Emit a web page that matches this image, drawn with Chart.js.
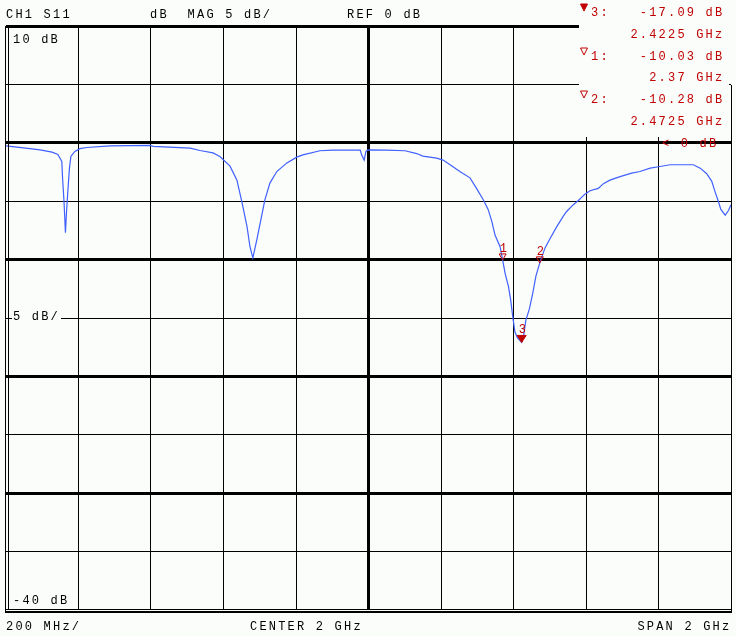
<!DOCTYPE html>
<html>
<head>
<meta charset="utf-8">
<style>
  html, body { margin: 0; padding: 0; background: #fafdfa; }
  canvas { display: block; }
</style>
<script src="https://cdn.jsdelivr.net/npm/chart.js@4.4.1/dist/chart.umd.min.js"></script>
</head>
<body>
<canvas id="c" width="736" height="636"></canvas>
<script>
const freqGHz = [1.000,1.066,1.094,1.127,1.143,1.154,1.156,1.160,1.164,1.167,
  1.170,1.175,1.179,1.190,1.204,1.223,1.287,1.397,1.406,1.508,
  1.535,1.571,1.590,1.618,1.637,1.651,1.665,1.673,1.681,1.692,
  1.705,1.714,1.728,1.747,1.774,1.802,1.819,1.866,1.902,1.977,
  1.981,1.988,1.993,1.999,2.050,2.101,2.133,2.150,2.188,2.206,
  2.225,2.252,2.280,2.298,2.317,2.330,2.340,2.349,2.363,2.370,
  2.377,2.386,2.392,2.398,2.404,2.411,2.4225,2.427,2.434,2.444,
  2.453,2.462,2.4725,2.487,2.501,2.519,2.537,2.546,2.565,2.579,
  2.597,2.611,2.634,2.648,2.666,2.694,2.726,2.749,2.777,2.804,
  2.832,2.896,2.915,2.933,2.947,2.956,2.965,2.972,2.984,2.993,3.000];

const s11dB = [-0.26,-0.5,-0.6,-0.8,-1.0,-1.6,-3.0,-5.0,-7.7,-5.9,
  -4.45,-2.17,-1.17,-0.74,-0.5,-0.4,-0.26,-0.22,-0.3,-0.45,
  -0.66,-0.86,-1.17,-2.0,-3.2,-5.1,-7.2,-8.9,-9.85,-8.3,
  -6.3,-4.9,-3.45,-2.46,-1.74,-1.23,-1.03,-0.68,-0.63,-0.63,
  -1.03,-1.48,-0.74,-0.6,-0.63,-0.68,-0.92,-1.14,-1.31,-1.48,
  -1.88,-2.46,-3.0,-3.9,-4.9,-5.7,-6.7,-7.9,-8.9,-10.03,
  -11.2,-12.3,-13.4,-14.9,-16.2,-16.7,-17.09,-16.7,-15.2,-14.2,
  -12.9,-11.4,-10.28,-9.0,-8.2,-7.2,-6.3,-5.9,-5.3,-4.94,
  -4.4,-4.1,-3.9,-3.5,-3.2,-2.9,-2.6,-2.46,-2.17,-2.03,
  -1.88,-1.88,-2.17,-2.65,-3.3,-4.2,-5.0,-5.7,-6.2,-5.8,-5.3];

// marcadores
const markerIds  = ['1', '2', '3'];
const markerFreq = [2.37, 2.4725, 2.4225];
const markerDb   = [-10.03, -10.28, -17.09];
const activeMarker = '3';
const readoutOrder = ['3', '1', '2'];

// escalas
const freqMin = 1, freqMax = 3, freqStep = 0.2;
const dbMin = -40, dbMax = 10, dbStep = 5;
const refDb = 0;

// textos
const headerTexts = ['CH1 S11', 'dB  MAG 5 dB/', 'REF 0 dB'];
const footerTexts = ['200 MHz/', 'CENTER 2 GHz', 'SPAN 2 GHz'];
const topLabel = '10 dB', midLabel = '5 dB/', bottomLabel = '-40 dB';

// ====== Estilo ======
const BG = '#fafdfa';
const RED = '#c00000';
const BLUE = '#4060ff';
const FONT = '12px "Liberation Mono", "DejaVu Sans Mono", monospace';
const PITCH = 9.4;

const near = (a, b) => Math.abs(a - b) < 1e-6;

function mono(ctx, txt, x, y, align) {
  const n = txt.length;
  const x0 = align === 'right' ? x - (n - 1) * PITCH - 7 : x;
  for (let i = 0; i < n; i++) ctx.fillText(txt[i], x0 + i * PITCH, y);
}

function tri(ctx, cx, tipY, w, h, filled) {
  ctx.beginPath();
  ctx.moveTo(cx - w / 2, tipY - h);
  ctx.lineTo(cx + w / 2, tipY - h);
  ctx.lineTo(cx, tipY);
  ctx.closePath();
  if (filled) { ctx.fillStyle = RED; ctx.fill(); }
  ctx.strokeStyle = RED; ctx.lineWidth = 1; ctx.stroke();
}

const screenPlugin = {
  id: 'screen',
  beforeDraw(chart) {
    const { ctx } = chart;
    ctx.save();
    ctx.fillStyle = BG;
    ctx.fillRect(0, 0, chart.width, chart.height);
    ctx.restore();
  },
  afterDraw(chart) {
    const { ctx, chartArea: a, scales: { x, y } } = chart;
    ctx.save();

    // caja de lectura de marcadores (tapa la rejilla)
    ctx.fillStyle = BG;
    ctx.fillRect(579, 0, chart.width - 579, 84);
    ctx.fillRect(579, 84, 150, 53);

    // marco
    ctx.strokeStyle = '#000';
    ctx.lineWidth = 3;
    ctx.beginPath(); ctx.moveTo(a.left, a.top + 0.5); ctx.lineTo(579, a.top + 0.5); ctx.stroke();
    ctx.lineWidth = 1;
    ctx.beginPath();
    ctx.moveTo(a.left - 0.5, a.top); ctx.lineTo(a.left - 0.5, a.bottom + 3);
    ctx.moveTo(a.left + 2.5, a.top); ctx.lineTo(a.left + 2.5, a.bottom);
    ctx.moveTo(a.left, a.bottom - 0.5); ctx.lineTo(a.right, a.bottom - 0.5);
    ctx.moveTo(a.right + 0.5, 85); ctx.lineTo(a.right + 0.5, a.bottom + 3);
    ctx.stroke();
    ctx.lineWidth = 2;
    ctx.beginPath(); ctx.moveTo(a.left - 1, a.bottom + 2); ctx.lineTo(a.right + 1, a.bottom + 2); ctx.stroke();

    // etiqueta 5 dB/ sobre la línea
    const yMid = Math.round(y.getPixelForValue(-15));
    ctx.fillStyle = BG;
    ctx.fillRect(12, yMid - 10, 49, 12);

    ctx.font = FONT;
    ctx.textBaseline = 'alphabetic';
    ctx.fillStyle = '#000';
    mono(ctx, headerTexts[0], 6, 18);
    mono(ctx, headerTexts[1], 150, 18);
    mono(ctx, headerTexts[2], 347, 18);
    mono(ctx, topLabel, 13, 43);
    mono(ctx, midLabel, 13, yMid + 2);
    mono(ctx, bottomLabel, 13, 604);
    mono(ctx, footerTexts[0], 6, 630);
    mono(ctx, footerTexts[1], 250, 630);
    mono(ctx, footerTexts[2], 729, 630, 'right');

    // lectura de marcadores
    ctx.fillStyle = RED;
    readoutOrder.forEach((id, i) => {
      const k = markerIds.indexOf(id);
      const b1 = Math.round(16 + i * 2 * 21.8);
      const b2 = Math.round(16 + (i * 2 + 1) * 21.8);
      tri(ctx, 584, b1 - 5, 7, 7, id === activeMarker);
      ctx.fillStyle = RED;
      mono(ctx, id + ':', 591, b1);
      mono(ctx, markerDb[k].toFixed(2) + ' dB', 722, b1, 'right');
      mono(ctx, markerFreq[k] + ' GHz', 722, b2, 'right');
    });

    // nivel de referencia
    const yRef = y.getPixelForValue(refDb);
    mono(ctx, '< ' + refDb + ' dB', 662, yRef + 4);

    // marcadores sobre la traza
    markerIds.forEach((id, k) => {
      const px = x.getPixelForValue(markerFreq[k]);
      const py = y.getPixelForValue(markerDb[k]);
      const act = id === activeMarker;
      tri(ctx, px, py, act ? 9 : 7, act ? 7 : 6, act);
      ctx.fillStyle = RED;
      ctx.fillText(id, px - 3, py - (act ? 9 : 8));
    });

    ctx.restore();
  }
};

new Chart(document.getElementById('c'), {
  type: 'line',
  data: {
    datasets: [{
      data: freqGHz.map((f, i) => ({ x: f, y: s11dB[i] })),
      borderColor: BLUE,
      borderWidth: 1.2,
      pointRadius: 0,
      tension: 0,
      fill: false
    }]
  },
  options: {
    responsive: false,
    animation: false,
    layout: { padding: { left: 6, right: 5, top: 26, bottom: 26 } },
    plugins: { legend: { display: false }, tooltip: { enabled: false } },
    scales: {
      x: {
        type: 'linear', min: freqMin, max: freqMax,
        ticks: { display: false, stepSize: freqStep },
        border: { display: false },
        grid: {
          color: '#000', drawTicks: false,
          lineWidth: c => (near(c.tick.value, freqMin) || near(c.tick.value, freqMax)) ? 0
                          : near(c.tick.value, 2) ? 3 : 1
        }
      },
      y: {
        min: dbMin, max: dbMax,
        ticks: { display: false, stepSize: dbStep },
        border: { display: false },
        grid: {
          color: '#000', drawTicks: false,
          lineWidth: c => (near(c.tick.value, dbMin) || near(c.tick.value, dbMax)) ? 0
                          : (Math.round(c.tick.value) % 10 === 0) ? 3 : 1
        }
      }
    }
  },
  plugins: [screenPlugin]
});
</script>
</body>
</html>
